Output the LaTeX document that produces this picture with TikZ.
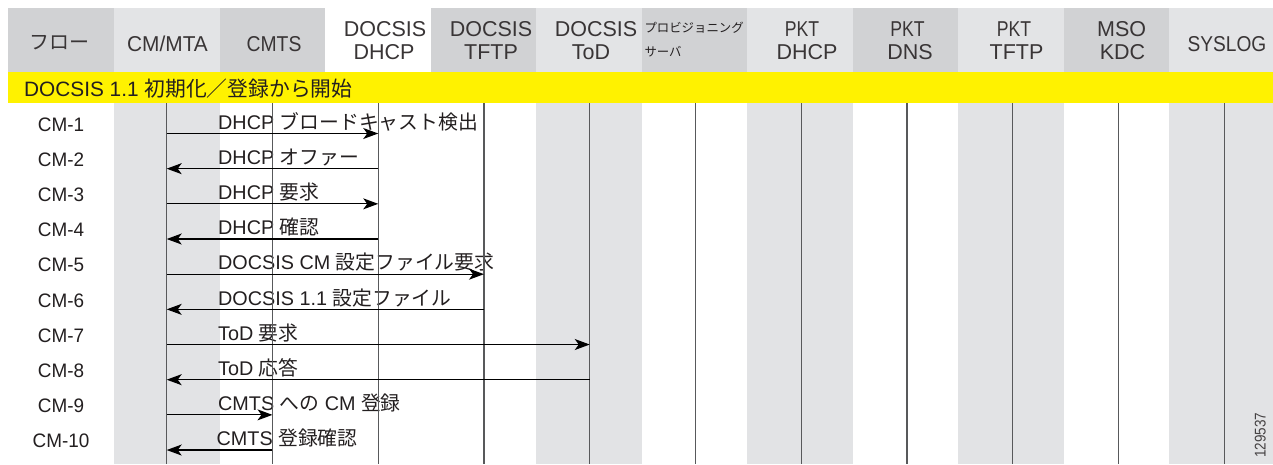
\documentclass[tikz,border=0pt]{standalone}
\usepackage{fontspec}
\setmainfont{Liberation Sans}
\newfontfamily\cjk{Noto Sans CJK JP}
\usetikzlibrary{arrows.meta,calc}
\definecolor{hdark}{HTML}{D1D2D4}
\definecolor{hlight}{HTML}{E3E4E6}
\definecolor{bodygray}{HTML}{E2E3E5}
\definecolor{yel}{HTML}{FFF200}
\definecolor{ink}{HTML}{231F20}
\definecolor{lifeclr}{HTML}{58595B}
\tikzset{
  hdr/.style={inner sep=0pt, anchor=base, text=ink!90, font=\fontsize{21.5}{23}\selectfont},
  provtxt/.style={inner sep=0pt, anchor=base west, text=ink, font=\fontsize{12.4}{14}\selectfont\cjk},
  rowlbl/.style={inner sep=0pt, anchor=base, text=ink, font=\fontsize{19.5}{21}\selectfont},
  msglbl/.style={inner sep=0pt, anchor=base west, text=ink, font=\fontsize{19.8}{21}\selectfont},
  life/.style={draw=lifeclr, line width=1.2pt},
  msg/.style={draw=black, line width=1.2pt, -{Stealth[length=15pt,width=11pt,inset=4pt]}},
}
\begin{document}
\begin{tikzpicture}[x=1pt,y=-1pt]
\useasboundingbox (0,0) rectangle (1273,464);
% header backgrounds
\fill[hdark] (8,8) rectangle (114,71.7);
\foreach \k/\c in {1/hlight,2/hdark,3/white,4/hdark,5/hlight,6/hdark,7/hlight,8/hdark,9/hlight,10/hdark,11/hlight}
  \fill[\c] ({114+105.5*(\k-1)},8) rectangle ({114+105.5*\k},71.7);
% yellow band
\fill[yel] (8,71.7) rectangle (1273,103);
% body shading
\foreach \k in {1,5,7,9,11}
  \fill[bodygray] ({114+105.5*(\k-1)},103) rectangle ({114+105.5*\k},464);
% header texts
\node[hdr] (h0) at (59,49) {\fontsize{20}{22}\selectfont\cjk フロー};
\node[hdr] (h1) at (167.5,51) {\scalebox{0.97}[1]{CM/MTA}};
\node[hdr] (h2) at (274,51) {\scalebox{0.9}[1]{CMTS}};
\node[hdr] (h3a) at (385,36) {DOCSIS};
\node[hdr] (h3b) at (384,59.3) {DHCP};
\node[hdr] (h4a) at (491,36) {DOCSIS};
\node[hdr] (h4b) at (491,59.3) {TFTP};
\node[hdr] (h5a) at (596,36) {DOCSIS};
\node[hdr] (h5b) at (591,59.3) {ToD};
\node[provtxt] (h6a) at (644.3,32) {プロビジョニング};
\node[provtxt] (h6b) at (644.3,56) {サーバ};
\node[hdr] (h7a) at (802,36) {\scalebox{0.82}[1]{PKT}};
\node[hdr] (h7b) at (807,59.3) {DHCP};
\node[hdr] (h8a) at (907.5,36) {\scalebox{0.82}[1]{PKT}};
\node[hdr] (h8b) at (910,59.3) {DNS};
\node[hdr] (h9a) at (1014,36) {\scalebox{0.82}[1]{PKT}};
\node[hdr] (h9b) at (1016.5,59.3) {TFTP};
\node[hdr] (h10a) at (1121.7,36) {MSO};
\node[hdr] (h10b) at (1122.5,59.3) {KDC};
\node[hdr] (h11) at (1227,51.5) {\scalebox{0.89}[1]{SYSLOG}};
% yellow band text
\node[inner sep=0pt, anchor=base west, text=ink, font=\fontsize{20.8}{22}\selectfont] (band) at (24,96)
  {DOCSIS 1.1 {\cjk 初期化／登録から開始}};
% rows
\foreach \i in {1,...,10}
  \coordinate (r\i) at (0,{133.5+35.17*(\i-1)});
\foreach \i in {1,...,10}
  \node[rowlbl] (f\i) at ($(61,0)+(r\i)+(0,-2.3)$) {\scalebox{0.97}[1]{CM-\i}};
% message labels
\node[msglbl] (m1) at ($(218,0)+(r1)+(0,-4.3)$) {DHCP {\cjk ブロードキャスト検出}};
\node[msglbl] (m2) at ($(218,0)+(r2)+(0,-4.3)$) {DHCP {\cjk オファー}};
\node[msglbl] (m3) at ($(218,0)+(r3)+(0,-4.3)$) {DHCP {\cjk 要求}};
\node[msglbl] (m4) at ($(218,0)+(r4)+(0,-4.3)$) {DHCP {\cjk 確認}};
\node[msglbl] (m5) at ($(218,0)+(r5)+(0,-4.3)$) {DOCSIS CM {\cjk 設定ファイル要求}};
\node[msglbl] (m6) at ($(218,0)+(r6)+(0,-4.3)$) {DOCSIS 1.1 {\cjk 設定ファイル}};
\node[msglbl] (m7) at ($(218,0)+(r7)+(0,-4.3)$) {ToD {\cjk 要求}};
\node[msglbl] (m8) at ($(218,0)+(r8)+(0,-4.3)$) {ToD {\cjk 応答}};
\node[msglbl] (m9) at ($(218,0)+(r9)+(0,-4.3)$) {CMTS {\cjk への} CM {\cjk 登録}};
\node[msglbl] (m10) at ($(216.5,0)+(r10)+(0,-4.3)$) {CMTS {\cjk 登録確認}};
% lifelines
\foreach \k in {1,...,11} {
  \coordinate (T\k) at ({166.7+105.76*(\k-1)},103);
  \coordinate (B\k) at ({166.7+105.76*(\k-1)},464);
  \draw[life] (T\k) -- (B\k);
}
% messages
\draw[msg] (T1 |- r1) -- (T3 |- r1);
\draw[msg] (T3 |- r2) -- (T1 |- r2);
\draw[msg] (T1 |- r3) -- (T3 |- r3);
\draw[msg] (T3 |- r4) -- (T1 |- r4);
\draw[msg] (T1 |- r5) -- (T4 |- r5);
\draw[msg] (T4 |- r6) -- (T1 |- r6);
\draw[msg] (T1 |- r7) -- (T5 |- r7);
\draw[msg] (T5 |- r8) -- (T1 |- r8);
\draw[msg] (T1 |- r9) -- (T2 |- r9);
\draw[msg] (T2 |- r10) -- (T1 |- r10);
% figure number
\node[inner sep=0pt, anchor=base west, rotate=90, text=ink!85, font=\fontsize{15.5}{17}\selectfont] (fig) at (1265.7,458)
  {\scalebox{0.87}[1]{129537}};
\end{tikzpicture}
\end{document}
